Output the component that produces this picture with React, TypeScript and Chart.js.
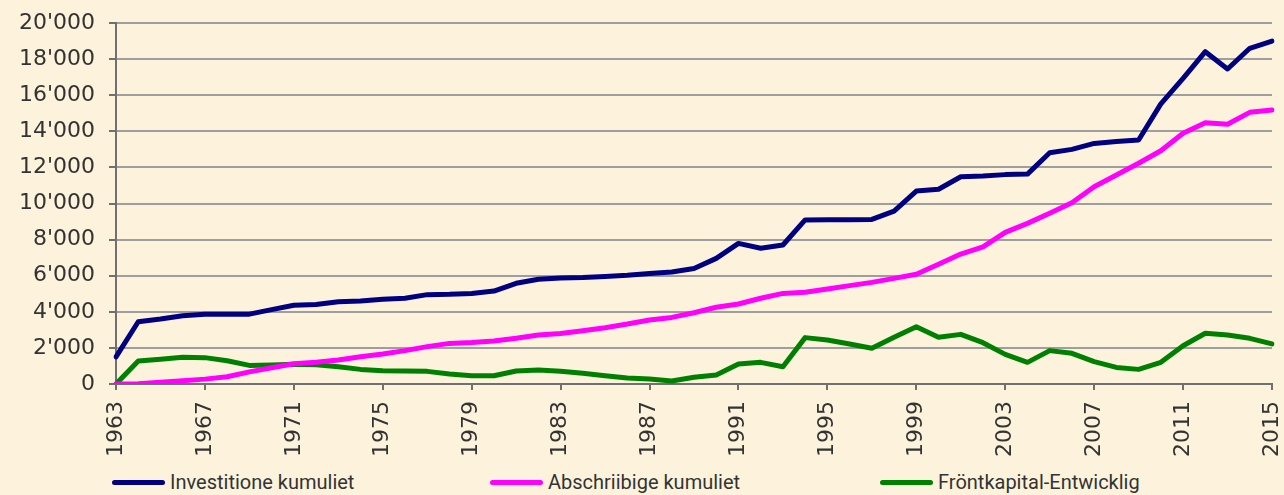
import React, { useEffect, useRef } from "react";
import { Chart, registerables } from "chart.js";

Chart.register(...registerables);

const years: string[] = [];
for (let y = 1963; y <= 2015; y++) years.push(String(y));

const investitione: number[] = [
  1500, 3450, 3600, 3780, 3860, 3870, 3870, 4120, 4360, 4400,
  4560, 4600, 4700, 4750, 4950, 4970, 5020, 5150, 5580, 5800,
  5870, 5900, 5960, 6020, 6120, 6200, 6400, 6960, 7790, 7520,
  7700, 9090, 9100, 9100, 9120, 9580, 10690, 10790, 11480, 11520,
  11600, 11630, 12810, 13000, 13330, 13440, 13520, 15520, 16930, 18410,
  17450, 18600, 19000,
];

const abschriibige: number[] = [
  0, 20, 100, 180, 270, 400, 670, 900, 1120, 1200,
  1330, 1510, 1660, 1850, 2070, 2250, 2300, 2380, 2530, 2710,
  2800, 2950, 3120, 3320, 3550, 3690, 3950, 4250, 4430, 4750,
  5020, 5080, 5260, 5450, 5630, 5850, 6080, 6630, 7200, 7600,
  8400, 8900, 9460, 10040, 10930, 11580, 12230, 12920, 13890, 14480,
  14390, 15050, 15180,
];

const froentkapital: number[] = [
  0, 1270, 1370, 1480, 1460, 1290, 1030, 1050, 1090, 1070,
  960, 810, 740, 720, 700, 550, 460, 460, 720, 780,
  700, 590, 460, 330, 280, 170, 370, 500, 1110, 1200,
  960, 2570, 2440, 2220, 1980, 2590, 3170, 2590, 2750, 2290,
  1640, 1200, 1850, 1700, 1240, 920, 810, 1200, 2120, 2810,
  2710, 2530, 2220,
];

const seriesNames = [
  "Investitione kumuliet",
  "Abschriibige kumuliet",
  "Fröntkapital-Entwicklig",
];
const seriesColors = ["#000080", "#FF00FF", "#008000"];
const legendX = [112, 490, 880];

const yMin = 0;
const yMax = 20000;
const yStep = 2000;

const BG = "#FDF3DD";
const TEXT = "#333333";

function fmt(v: number): string {
  if (v >= 1000) {
    const th = Math.floor(v / 1000);
    const rest = String(v % 1000).padStart(3, "0");
    return `${th}'${rest}`;
  }
  return String(v);
}

export default function App() {
  const canvasRef = useRef<HTMLCanvasElement | null>(null);

  useEffect(() => {
    const canvas = canvasRef.current;
    if (!canvas) return;
    const datasets = [investitione, abschriibige, froentkapital].map((d, i) => ({
      label: seriesNames[i],
      data: d,
      borderColor: seriesColors[i],
      backgroundColor: seriesColors[i],
      borderWidth: 5,
      borderJoinStyle: "round" as const,
      borderCapStyle: "round" as const,
      pointRadius: 0,
      tension: 0,
      fill: false,
    }));
    const chart = new Chart(canvas, {
      type: "line",
      data: { labels: years, datasets },
      options: {
        animation: false,
        responsive: false,
        devicePixelRatio: 1,
        layout: { padding: { left: 0, top: 23, right: 12, bottom: 0 } },
        plugins: { legend: { display: false }, tooltip: { enabled: false } },
        scales: {
          x: {
            type: "category",
            offset: false,
            border: { display: true, color: "#707070", width: 2 },
            grid: {
              display: true,
              drawOnChartArea: true,
              color: (ctx: any) => (ctx.index === years.length - 1 ? "#9E9E9E" : "rgba(0,0,0,0)"),
              lineWidth: 2,
              tickColor: "#707070",
              tickLength: 6,
            },
            ticks: {
              autoSkip: false,
              maxRotation: 90,
              minRotation: 90,
              padding: 11,
              color: TEXT,
              font: { family: "'DejaVu Sans'", size: 22 },
              callback: (_v: any, index: number) => (index % 4 === 0 ? years[index] : null),
            },
            afterFit: (scale: any) => {
              scale.height = 86;
              scale.paddingLeft = 0;
              scale.paddingRight = 0;
            },
          },
          y: {
            min: yMin,
            max: yMax,
            border: { display: true, color: "#707070", width: 2 },
            grid: {
              color: "#9E9E9E",
              lineWidth: 2,
              tickColor: "#707070",
              tickLength: 7,
            },
            ticks: {
              stepSize: yStep,
              padding: 14,
              color: TEXT,
              font: { family: "'DejaVu Sans'", size: 22 },
              callback: (v: any) => fmt(Number(v)),
            },
            afterFit: (scale: any) => {
              scale.width = 116;
              scale.paddingTop = 0;
              scale.paddingBottom = 0;
            },
          },
        },
      },
    });
    return () => chart.destroy();
  }, []);

  return (
    <div
      style={{
        position: "absolute",
        left: 0,
        top: 0,
        width: 1284,
        height: 495,
        background: BG,
        overflow: "hidden",
      }}
    >
      <canvas
        ref={canvasRef}
        width={1284}
        height={470}
        style={{ position: "absolute", left: 0, top: 0, width: 1284, height: 470 }}
      />
      {seriesNames.map((name, i) => (
        <div
          key={name}
          style={{
            position: "absolute",
            left: legendX[i],
            top: 470,
            height: 24,
            display: "flex",
            alignItems: "center",
            fontFamily: "Roboto, 'DejaVu Sans', sans-serif",
            fontSize: 20,
            color: TEXT,
            whiteSpace: "nowrap",
          }}
        >
          <span
            style={{
              display: "inline-block",
              width: 53,
              height: 5,
              borderRadius: 3,
              background: seriesColors[i],
              marginRight: 5,
            }}
          />
          <span>{name}</span>
        </div>
      ))}
    </div>
  );
}
